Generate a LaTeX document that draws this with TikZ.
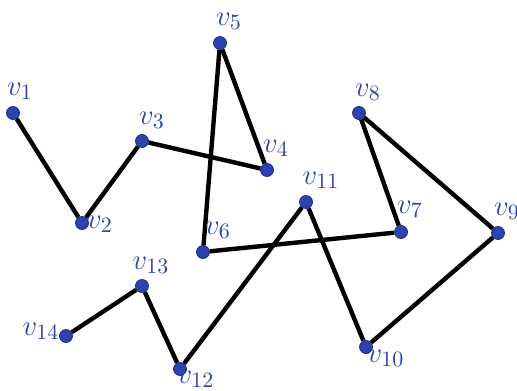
\documentclass[tikz,border=0pt]{standalone}
\usepackage{tikz}
\definecolor{vblue}{RGB}{45,65,175}
\tikzset{
  vert/.style={circle,fill=vblue,draw=vblue!70!black,line width=0.4pt,inner sep=0pt,minimum size=6.5pt},
  lbl/.style={text=vblue,font=\fontsize{15}{18}\selectfont,inner sep=0pt},
  edge/.style={line width=2.2pt,black}
}
\begin{document}
\begin{tikzpicture}[x=0.5pt,y=-0.5pt]
\useasboundingbox (0,0) rectangle (517,390);
\node[vert] (v1) at (13,113) {};
\node[vert] (v2) at (82,223) {};
\node[vert] (v3) at (142,141) {};
\node[vert] (v4) at (267,170) {};
\node[vert] (v5) at (220,43) {};
\node[vert] (v6) at (203,252) {};
\node[vert] (v7) at (401,232) {};
\node[vert] (v8) at (359,113) {};
\node[vert] (v9) at (498,233) {};
\node[vert] (v10) at (366,347) {};
\node[vert] (v11) at (306,202) {};
\node[vert] (v12) at (180,369) {};
\node[vert] (v13) at (142,286) {};
\node[vert] (v14) at (66,336) {};
\draw[edge] (v1) -- (v2);
\draw[edge] (v2) -- (v3);
\draw[edge] (v3) -- (v4);
\draw[edge] (v4) -- (v5);
\draw[edge] (v5) -- (v6);
\draw[edge] (v6) -- (v7);
\draw[edge] (v7) -- (v8);
\draw[edge] (v8) -- (v9);
\draw[edge] (v9) -- (v10);
\draw[edge] (v10) -- (v11);
\draw[edge] (v11) -- (v12);
\draw[edge] (v12) -- (v13);
\draw[edge] (v13) -- (v14);
\node[lbl] (l1) at (20,91) {$v_1$};
\node[lbl] (l2) at (100,224) {$v_2$};
\node[lbl] (l3) at (152,120) {$v_3$};
\node[lbl] (l4) at (276,148) {$v_4$};
\node[lbl] (l5) at (229,21) {$v_5$};
\node[lbl] (l6) at (218,230) {$v_6$};
\node[lbl] (l7) at (410,209) {$v_7$};
\node[lbl] (l8) at (368,92) {$v_8$};
\node[lbl] (l9) at (507,211) {$v_9$};
\node[lbl] (l10) at (386,358) {$v_{10}$};
\node[lbl] (l11) at (321,180) {$v_{11}$};
\node[lbl] (l12) at (196,379) {$v_{12}$};
\node[lbl] (l13) at (151,265) {$v_{13}$};
\node[lbl] (l14) at (41,331) {$v_{14}$};
\end{tikzpicture}
\end{document}
